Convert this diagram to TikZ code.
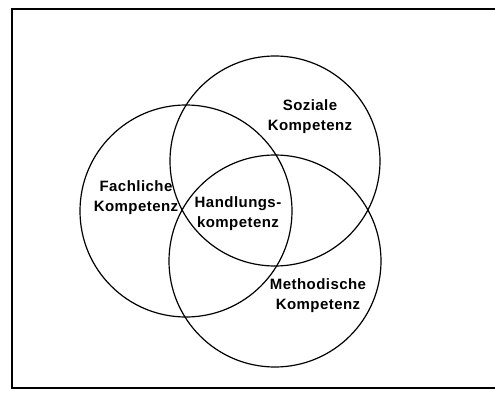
\documentclass[tikz,border=0pt]{standalone}
\usepackage{fontspec}
\setmainfont{Liberation Sans}
\newfontfamily\labelfont[LetterSpace=3]{Liberation Sans}
\usetikzlibrary{positioning}

\tikzset{
  ring/.style={line width=1.2pt},
  label text/.style={font=\labelfont\fontsize{15}{20}\selectfont\bfseries, align=center, inner sep=0pt}
}

\begin{document}
\begin{tikzpicture}[x=1pt, y=-1pt]
        \useasboundingbox (0,0) rectangle (495,401);

        % Frame (open on the right, as in the scan)
        \draw[line width=1.2pt] (495,9) -- (12,9) -- (12,388) -- (495,388);

        % Competence circles
        \draw[ring] (275,161) circle (105);
        \draw[ring] (186,211) circle (106);
        \draw[ring] (275,261) circle (106);

        % Labels
        \node[label text] (sozial) at (310,117) {Soziale\\Kompetenz};
        \node[label text] (fach) at (136,198) {Fachliche\\Kompetenz};
        \node[label text] (handlung) at (238,214) {Handlungs-\\kompetenz};
        \node[label text] (methode) at (318,296) {Methodische\\Kompetenz};
    \end{tikzpicture}
\end{document}
